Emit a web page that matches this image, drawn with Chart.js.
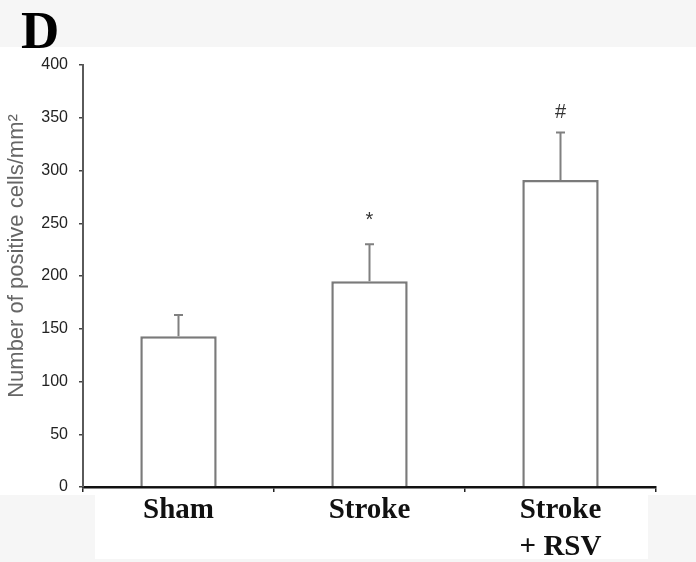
<!DOCTYPE html>
<html>
<head>
<meta charset="utf-8">
<script src="https://cdn.jsdelivr.net/npm/chart.js@4.4.1/dist/chart.umd.min.js"></script>
<style>
  html, body { margin: 0; padding: 0; background: #ffffff; }
  #wrap { width: 696px; height: 562px; position: relative; }
</style>
</head>
<body>
<div id="wrap"><canvas id="c" width="696" height="562"></canvas></div>
<script>
// Groups and measured means (cells/mm²)
const groups = [['Sham'], ['Stroke'], ['Stroke', '+ RSV']];
const means = [143, 195, 291];
// Upper error (SD) above each mean
const errors = [20, 35, 45];
// Significance marks and where they sit on the value axis
const marks = ['', '*', '#'];
const markValues = [null, 255, 355];
const yTicks = [0, 50, 100, 150, 200, 250, 300, 350, 400];
const yTitle = 'Number of positive cells/mm²';

const CHART_LEFT = 83;

const backdrop = {
  id: 'backdrop',
  beforeDraw(chart) {
    const ctx = chart.ctx;
    ctx.save();
    ctx.fillStyle = '#f6f6f6';
    ctx.fillRect(0, 0, chart.width, chart.height);
    ctx.fillStyle = '#ffffff';
    ctx.fillRect(0, 47, chart.width, 448);
    ctx.fillRect(95, 495, 553, 64);
    ctx.restore();
  },
  afterDraw(chart) {
    const ctx = chart.ctx;
    ctx.save();
    // panel letter
    ctx.fillStyle = '#000000';
    ctx.font = 'bold 53px "Liberation Serif", "Times New Roman", serif';
    ctx.textBaseline = 'alphabetic';
    ctx.textAlign = 'left';
    ctx.fillText('D', 21, 48);
    // value-axis title
    ctx.translate(17, 256);
    ctx.rotate(-Math.PI / 2);
    ctx.fillStyle = '#666666';
    ctx.font = '22px "Liberation Sans", Arial, sans-serif';
    ctx.textAlign = 'center';
    ctx.textBaseline = 'middle';
    ctx.fillText(yTitle, 0, 0);
    ctx.restore();
  }
};

const errorBars = {
  id: 'errorBars',
  afterDatasetsDraw(chart) {
    const ctx = chart.ctx;
    const x = chart.scales.x, y = chart.scales.y;
    ctx.save();
    ctx.strokeStyle = '#808080';
    ctx.lineWidth = 2;
    means.forEach((m, i) => {
      const cx = x.getPixelForValue(i);
      const y0 = y.getPixelForValue(m);
      const y1 = y.getPixelForValue(m + errors[i]);
      ctx.beginPath();
      ctx.moveTo(cx, y0);
      ctx.lineTo(cx, y1);
      ctx.moveTo(cx - 4.5, y1);
      ctx.lineTo(cx + 4.5, y1);
      ctx.stroke();
      if (marks[i]) {
        ctx.fillStyle = '#333333';
        ctx.font = '20px "Liberation Sans", Arial, sans-serif';
        ctx.textAlign = 'center';
        ctx.textBaseline = 'middle';
        ctx.fillText(marks[i], cx, y.getPixelForValue(markValues[i]) + (marks[i] === '*' ? 3 : 0));
      }
    });
    ctx.restore();
  }
};

new Chart(document.getElementById('c'), {
  type: 'bar',
  data: {
    labels: groups,
    datasets: [{
      data: means,
      backgroundColor: '#ffffff',
      borderColor: '#7a7a7a',
      borderWidth: 2.5,
      borderSkipped: 'bottom',
      categoryPercentage: 0.4,
      barPercentage: 1.0
    }]
  },
  options: {
    responsive: false,
    animation: false,
    devicePixelRatio: 1,
    layout: { padding: { left: 0, right: 40, top: 65, bottom: 0 } },
    plugins: { legend: { display: false }, tooltip: { enabled: false } },
    scales: {
      x: {
        offset: true,
        afterFit(scale) { scale.height = 75; },
        grid: { offset: true, drawOnChartArea: false, tickLength: 5, color: '#222', lineWidth: 1.5 },
        border: { color: '#111111', width: 2.5 },
        ticks: {
          color: '#111111',
          padding: 0,
          font: { family: '"Liberation Serif", "Times New Roman", serif', size: 29, weight: 'bold', lineHeight: 1.27 }
        }
      },
      y: {
        min: 0,
        max: 400,
        afterFit(scale) { scale.width = CHART_LEFT; },
        afterBuildTicks(scale) { scale.ticks = yTicks.map(v => ({ value: v })); },
        grid: { drawOnChartArea: false, tickLength: 4, color: '#444', lineWidth: 1.5 },
        border: { color: '#5a5a5a', width: 2 },
        ticks: {
          color: '#222222',
          padding: 11,
          font: { family: '"Liberation Sans", Arial, sans-serif', size: 16 }
        }
      }
    }
  },
  plugins: [backdrop, errorBars]
});
</script>
</body>
</html>
